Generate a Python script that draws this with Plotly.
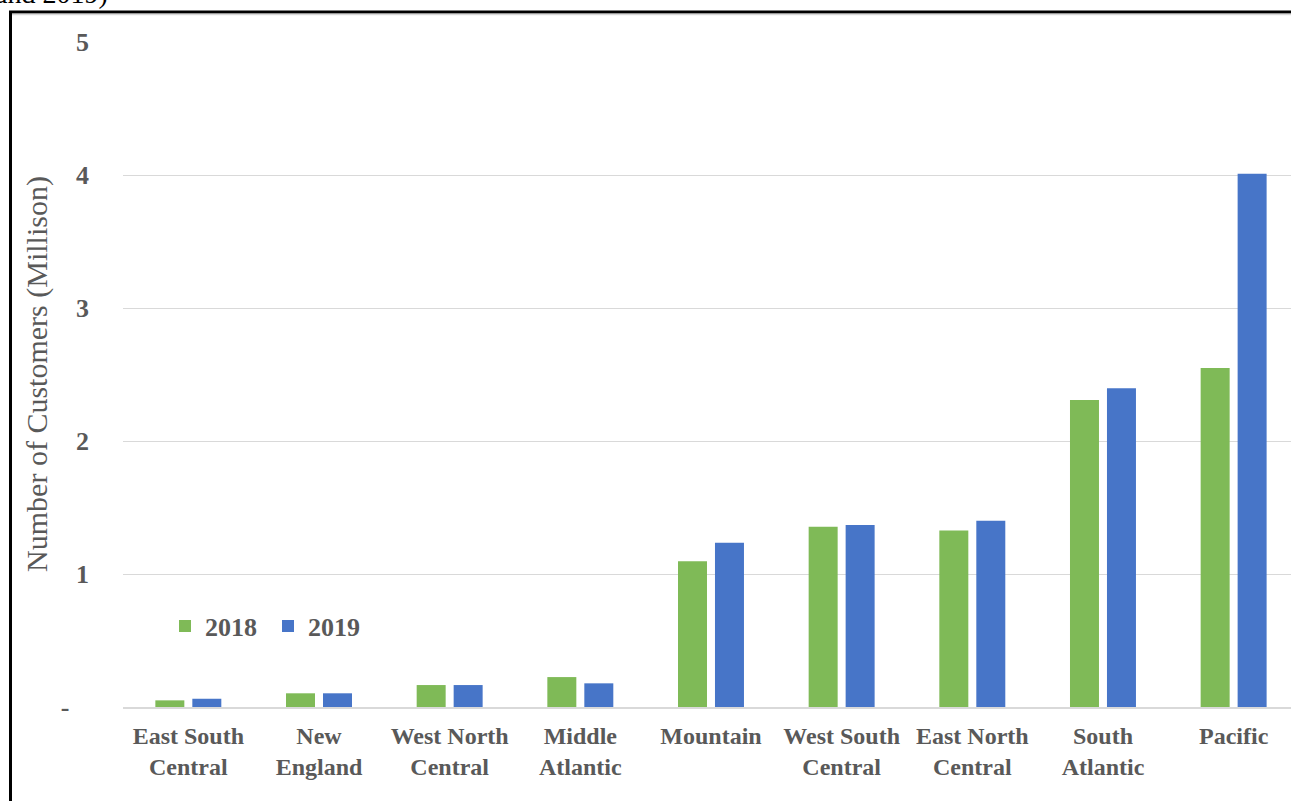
import plotly.graph_objects as go

# ---- data ----
categories = ["East South<br>Central", "New<br>England", "West North<br>Central",
              "Middle<br>Atlantic", "Mountain", "West South<br>Central",
              "East North<br>Central", "South<br>Atlantic", "Pacific"]
values_2018 = [0.05, 0.103, 0.165, 0.225, 1.095, 1.356, 1.328, 2.308, 2.549]
values_2019 = [0.062, 0.103, 0.165, 0.178, 1.235, 1.368, 1.401, 2.396, 4.01]
series_names = ["2018", "2019"]
ytick_vals = [0, 1, 2, 3, 4, 5]
ytick_text = ["-\u00a0\u00a0\u00a0", "1", "2", "3", "4", "5"]
y_title = "Number of Customers (Millison)"
title_fragment = "and 2019)"

# ---- geometry helpers ----
W, H = 1291, 801
L, R, T, B = 123, 0, 41, 94
PW, PH = W - L - R, H - T - B
Y_MAX = 5 + 1 / 133.0


def px_x(p):
    return (p - L) / PW


def px_y(p):
    return (H - B - p) / PH


GREEN = "#7FBA57"
BLUE = "#4775C8"
TXT = "#595959"
FONT = "Liberation Serif"

fig = go.Figure()
fig.add_trace(go.Bar(x=categories, y=values_2018, name=series_names[0],
                     marker=dict(color=GREEN, line=dict(width=0))))
fig.add_trace(go.Bar(x=categories, y=values_2019, name=series_names[1],
                     marker=dict(color=BLUE, line=dict(width=0))))

shapes = [
    # black frame (left and top)
    dict(type="line", xref="paper", yref="paper", x0=px_x(10.5), x1=px_x(10.5),
         y0=px_y(11), y1=px_y(805), line=dict(color="black", width=3)),
    dict(type="line", xref="paper", yref="paper", x0=px_x(9), x1=px_x(1295),
         y0=px_y(12), y1=px_y(12), line=dict(color="black", width=3)),
    dict(type="line", xref="paper", yref="paper", x0=px_x(12), x1=px_x(1295),
         y0=px_y(14.5), y1=px_y(14.5), line=dict(color="#D9D9D9", width=1.5)),
]

fig.update_layout(
    width=W, height=H,
    margin=dict(l=L, r=R, t=T, b=B, pad=0),
    paper_bgcolor="white", plot_bgcolor="white",
    barmode="group", bargap=0.434, bargroupgap=0.216,
    font=dict(family=FONT, color=TXT, size=24),
    showlegend=True,
    legend=dict(orientation="h", x=px_x(165), y=px_y(626), xanchor="left",
                yanchor="middle", font=dict(family=FONT, size=26, color=TXT,
                                            weight="bold"),
                bgcolor="rgba(0,0,0,0)", entrywidth=58, traceorder="normal"),
    shapes=shapes,
    annotations=[dict(text=title_fragment, xref="paper", yref="paper",
                      x=px_x(110), y=px_y(11), xanchor="right", yanchor="bottom",
                      showarrow=False,
                      font=dict(family=FONT, size=28, color="black"))],
)

fig.update_xaxes(
    type="category", range=[-0.5, 8.439],
    showgrid=False, showline=True, linecolor="#D9D9D9", linewidth=1.5,
    ticks="", tickfont=dict(family=FONT, size=24, color=TXT, weight="bold"),
    ticklabelstandoff=6, fixedrange=True,
)
fig.update_yaxes(
    range=[0, Y_MAX], tickvals=ytick_vals, ticktext=ytick_text,
    showgrid=True, gridcolor="#D9D9D9", gridwidth=1,
    showline=False, zeroline=False, ticks="",
    tickfont=dict(family=FONT, size=26, color=TXT, weight="bold"),
    ticklabelstandoff=33,
    title=dict(text=y_title, font=dict(family=FONT, size=30, color=TXT),
               standoff=4),
    fixedrange=True,
)

fig.write_html("out.html",
               config={"displayModeBar": False},
               post_script="document.body.style.margin='0';"
                           "document.body.style.padding='0';")
